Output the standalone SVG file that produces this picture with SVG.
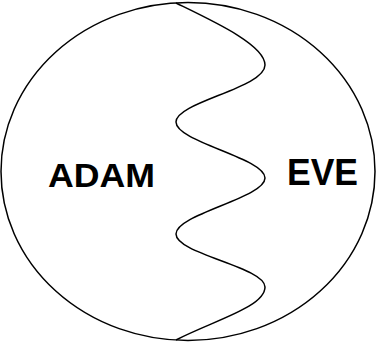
<svg xmlns="http://www.w3.org/2000/svg" width="376" height="344" viewBox="0 0 376 344">
<style>
.ln{fill:none;stroke:#000;stroke-width:1.5}
.lbl{font-family:"Liberation Sans",Arial,sans-serif;font-weight:bold;fill:#000}
</style>
<rect width="376" height="344" fill="#fff"/>
<g id="circle"><ellipse class="ln" cx="188" cy="171.5" rx="187" ry="169"/></g>
<g id="connectors"><path class="ln" d="M176,3 C215,22 265,45 265,65 C265,88 176,102 176,122 C176,142 265,158 265,178 C265,198 176,214 176,234 C176,254 265,267 265,287 C265,307 215,320 176,340"/></g>
<g id="adam"><text class="lbl" x="48" y="187" font-size="33" textLength="107" lengthAdjust="spacingAndGlyphs">ADAM</text></g>
<g id="eve"><text class="lbl" x="287" y="185" font-size="36" textLength="71" lengthAdjust="spacingAndGlyphs">EVE</text></g>
</svg>
